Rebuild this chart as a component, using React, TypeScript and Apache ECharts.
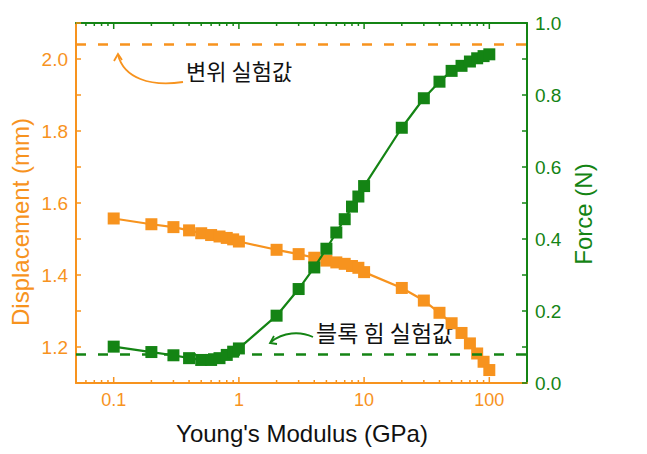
import React, { useEffect, useRef } from "react";
import * as echarts from "echarts";

const modulus = [0.1, 0.2, 0.3, 0.4, 0.5, 0.6, 0.7, 0.8, 0.9, 1, 2, 3, 4, 5, 6, 7, 8, 9, 10, 20, 30, 40, 50, 60, 70, 80, 90, 100];
const displacement = [1.557, 1.541, 1.533, 1.524, 1.516, 1.511, 1.507, 1.503, 1.499, 1.493, 1.47, 1.458, 1.448, 1.44, 1.435, 1.431, 1.425, 1.42, 1.408, 1.364, 1.329, 1.295, 1.266, 1.239, 1.21, 1.182, 1.159, 1.136];
const force = [0.101, 0.086, 0.077, 0.069, 0.064, 0.064, 0.069, 0.078, 0.087, 0.096, 0.187, 0.261, 0.321, 0.373, 0.418, 0.455, 0.49, 0.518, 0.547, 0.709, 0.791, 0.837, 0.867, 0.881, 0.893, 0.902, 0.908, 0.913];
const displacementExperiment = 2.04;
const forceExperiment = 0.08;
const xMinorTicks = [0.06, 0.07, 0.08, 0.09, 0.2, 0.3, 0.4, 0.5, 0.6, 0.7, 0.8, 0.9, 2, 3, 4, 5, 6, 7, 8, 9, 20, 30, 40, 50, 60, 70, 80, 90];
const xMajorTicks = [0.1, 1, 10, 100];

const ORANGE = "#F7931E";
const GREEN = "#148414";
const FONT = "Liberation Sans, Arial, sans-serif";
const KFONT = '"Noto Sans CJK KR", sans-serif';
const Y_MIN = 1.1;
const Y_MAX = 2.1;

export default function App() {
  const ref = useRef<HTMLDivElement>(null);
  useEffect(() => {
    if (!ref.current) return;
    const chart = echarts.init(ref.current, null, { renderer: "svg" });
    const tickData = [
      ...xMajorTicks.map((v) => [v, 1]),
      ...xMinorTicks.map((v) => [v, 0]),
    ];
    const option: any = {
      animation: false,
      backgroundColor: "#fff",
      grid: { left: 76, top: 23, width: 451, height: 360, containLabel: false },
      xAxis: [
        {
          type: "log",
          logBase: 10,
          min: 0.05,
          max: 200,
          position: "bottom",
          splitLine: { show: false },
          axisLine: { show: true, lineStyle: { color: ORANGE, width: 2 } },
          axisTick: { show: false },
          axisLabel: {
            color: ORANGE, fontSize: 18, fontFamily: FONT, margin: 8,
            formatter: (v: number) => {
              const l = Math.log10(v);
              return Math.abs(l - Math.round(l)) < 1e-6 ? String(+Number(v).toPrecision(3)) : "";
            },
          },
        },
        {
          type: "log",
          logBase: 10,
          min: 0.05,
          max: 200,
          position: "top",
          splitLine: { show: false },
          axisLine: { show: true, lineStyle: { color: GREEN, width: 2 } },
          axisTick: { show: false },
          axisLabel: { show: false },
        },
      ],
      yAxis: [
        {
          type: "value",
          position: "left",
          min: Y_MIN,
          max: Y_MAX,
          interval: 0.1,
          splitLine: { show: false },
          axisLine: { show: true, lineStyle: { color: ORANGE, width: 2 } },
          axisTick: { show: true, inside: true, length: 5, lineStyle: { color: ORANGE, width: 1.5 } },
          axisLabel: {
            color: ORANGE, fontSize: 19, fontFamily: FONT, margin: 8,
            formatter: (v: number) => {
              const t = Math.round(v * 10);
              return t % 2 === 0 && t >= 12 && t <= 20 ? (t / 10).toFixed(1) : "";
            },
          },
        },
        {
          type: "value",
          position: "right",
          min: 0,
          max: 1,
          interval: 0.2,
          splitLine: { show: false },
          axisLine: { show: true, lineStyle: { color: GREEN, width: 2 } },
          axisTick: { show: true, inside: true, length: 5, lineStyle: { color: GREEN, width: 1.5 } },
          minorTick: { show: true, splitNumber: 2, length: 5, lineStyle: { color: GREEN, width: 1.5 } },
          axisLabel: {
            color: GREEN, fontSize: 19, fontFamily: FONT, margin: 8,
            formatter: (v: number) => v.toFixed(1),
          },
        },
      ],
      series: [
        {
          type: "custom",
          name: "xticks",
          xAxisIndex: 0,
          yAxisIndex: 0,
          silent: true,
          clip: false,
          z: 5,
          data: tickData,
          renderItem: (params: any, api: any) => {
            const v = api.value(0);
            const major = api.value(1) === 1;
            const len = major ? 6 : 3;
            const pb = api.coord([v, Y_MIN]);
            const pt = api.coord([v, Y_MAX]);
            return {
              type: "group",
              children: [
                { type: "line", shape: { x1: pb[0], y1: pb[1], x2: pb[0], y2: pb[1] - len }, style: { stroke: ORANGE, lineWidth: 1.5 } },
                { type: "line", shape: { x1: pt[0], y1: pt[1], x2: pt[0], y2: pt[1] + len }, style: { stroke: GREEN, lineWidth: 1.5 } },
              ],
            };
          },
        },
        {
          type: "line",
          name: "Displacement",
          xAxisIndex: 0,
          yAxisIndex: 0,
          data: modulus.map((x, i) => [x, displacement[i]]),
          symbol: "rect",
          symbolSize: 12,
          color: ORANGE,
          lineStyle: { color: ORANGE, width: 2.2 },
          itemStyle: { color: ORANGE },
          z: 2,
          markLine: {
            silent: true,
            symbol: "none",
            label: { show: false },
            lineStyle: { color: ORANGE, type: [10, 12], width: 2.5 },
            data: [{ yAxis: displacementExperiment }],
          },
        },
        {
          type: "line",
          name: "Force",
          xAxisIndex: 0,
          yAxisIndex: 1,
          data: modulus.map((x, i) => [x, force[i]]),
          symbol: "rect",
          symbolSize: 12,
          color: GREEN,
          lineStyle: { color: GREEN, width: 2.2 },
          itemStyle: { color: GREEN },
          z: 3,
          markLine: {
            silent: true,
            symbol: "none",
            label: { show: false },
            lineStyle: { color: GREEN, type: [10, 12], width: 2.5 },
            data: [{ yAxis: forceExperiment }],
          },
        },
      ],
      graphic: [
        { type: "text", x: 20, y: 222, rotation: Math.PI / 2, style: { text: "Displacement (mm)", align: "center", verticalAlign: "middle", fontSize: 24, fontFamily: FONT, fill: ORANGE } },
        { type: "text", x: 583, y: 214, rotation: Math.PI / 2, style: { text: "Force (N)", align: "center", verticalAlign: "middle", fontSize: 24, fontFamily: FONT, fill: GREEN } },
        { type: "text", x: 302, y: 433, style: { text: "Young's Modulus (GPa)", align: "center", verticalAlign: "middle", fontSize: 24, fontFamily: FONT, fill: "#111" } },
        { type: "text", x: 186, y: 70, style: { text: "변위 실험값", align: "left", verticalAlign: "middle", fontSize: 22, fontFamily: KFONT, fill: "#111" } },
        { type: "text", x: 316, y: 332, style: { text: "블록 힘 실험값", align: "left", verticalAlign: "middle", fontSize: 23, fontFamily: KFONT, fill: "#111" } },
        { type: "bezierCurve", shape: { x1: 183, y1: 82, cpx1: 150, cpy1: 87, cpx2: 124, cpy2: 78, x2: 118, y2: 55 }, style: { stroke: ORANGE, lineWidth: 1.8, fill: "none" } },
        { type: "polyline", shape: { points: [[114, 61], [118, 54], [122, 60]] }, style: { stroke: ORANGE, lineWidth: 1.8, fill: "none" } },
        { type: "bezierCurve", shape: { x1: 313, y1: 337, cpx1: 300, cpy1: 331, cpx2: 283, cpy2: 332, x2: 271, y2: 342 }, style: { stroke: GREEN, lineWidth: 1.8, fill: "none" } },
        { type: "polyline", shape: { points: [[274, 336], [270, 343], [277, 344]] }, style: { stroke: GREEN, lineWidth: 1.8, fill: "none" } },
      ],
    };
    chart.setOption(option);
    return () => chart.dispose();
  }, []);
  return <div ref={ref} style={{ position: "fixed", left: 0, top: 0, width: 647, height: 454 }} />;
}
